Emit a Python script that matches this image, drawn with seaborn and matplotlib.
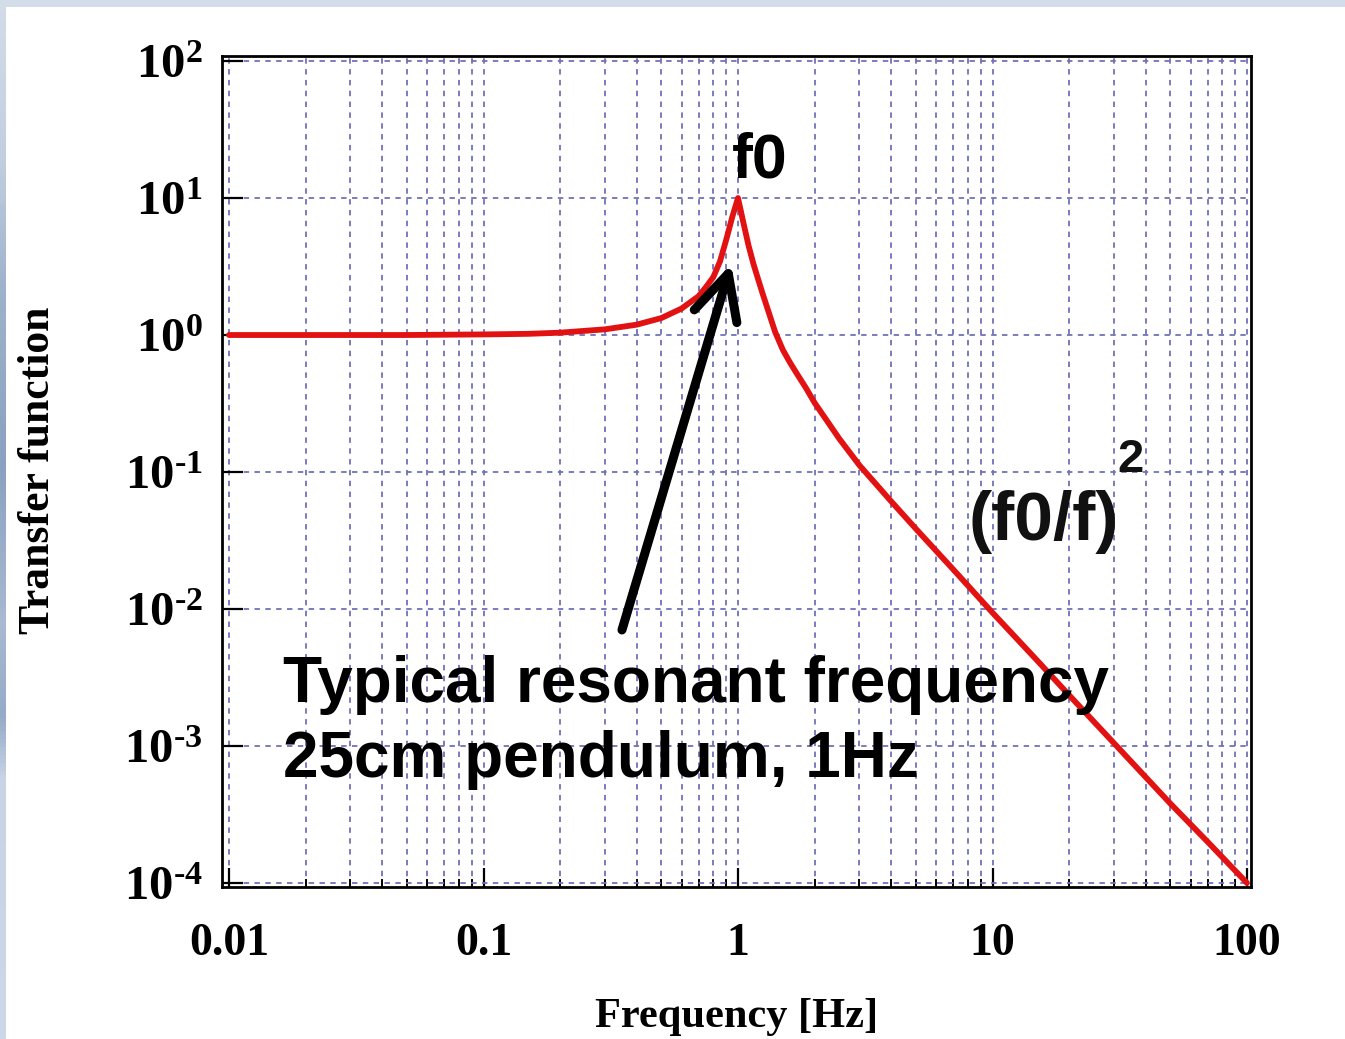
import numpy as np
import pandas as pd
import matplotlib
matplotlib.use("Agg")
import matplotlib.pyplot as plt
import seaborn as sns
from matplotlib.ticker import FixedLocator, FixedFormatter, NullLocator, NullFormatter, LogLocator
from matplotlib.colors import LinearSegmentedColormap

# ---------------- data ----------------
freq = [0.01, 0.02, 0.05, 0.1, 0.15, 0.2, 0.3, 0.4, 0.5, 0.6, 0.7, 0.75, 0.8, 0.85,
        0.9, 0.95, 1.0, 1.05, 1.1, 1.15, 1.2, 1.25, 1.3, 1.4, 1.5, 1.6, 1.7, 1.85,
        2.0, 2.5, 3.0, 4.0, 5.0, 7.0, 10.0, 15.0, 20.0, 30.0, 50.0, 70.0, 100.0]
transfer = [1.0, 1.0, 1.0, 1.01, 1.02, 1.04, 1.10, 1.19, 1.33, 1.56, 1.92, 2.25, 2.65, 3.45,
            5.0, 7.3, 10.0, 6.6, 4.5, 3.3, 2.55, 2.0, 1.6, 1.05, 0.78, 0.63, 0.525, 0.41,
            0.32, 0.175, 0.112, 0.061, 0.0385, 0.0195, 0.0094, 0.0042, 0.00235, 0.00105,
            3.8e-4, 2.0e-4, 1.0e-4]

xticks = [0.01, 0.1, 1, 10, 100]
xtick_labels = ["0.01", "0.1", "1", "10", "100"]
yticks = [1e-4, 1e-3, 1e-2, 1e-1, 1e0, 1e1, 1e2]
ytick_labels = [r"$10^{\text{-}4}$", r"$10^{\text{-}3}$", r"$10^{\text{-}2}$", r"$10^{\text{-}1}$",
                r"$10^{0}$", r"$10^{1}$", r"$10^{2}$"]

x_label = "Frequency [Hz]"
y_label = "Transfer function"
peak_label = "f0"
note_line1 = "Typical resonant frequency"
note_line2 = "25cm pendulum, 1Hz"
slope_label = "(f0/f)"
slope_exp = "2"

# ---------------- style ----------------
RED = "#e31212"
GRID = "#7272b8"
W, H = 1345, 1039

sns.set_theme(style="white")
plt.rcParams["font.family"] = ["Liberation Serif", "DejaVu Serif"]
plt.rcParams["text.color"] = "black"
plt.rcParams["mathtext.fontset"] = "custom"
plt.rcParams["mathtext.rm"] = "Liberation Serif:bold"
plt.rcParams["mathtext.bf"] = "Liberation Serif:bold"
plt.rcParams["mathtext.it"] = "Liberation Serif:bold"

fig = plt.figure(figsize=(W / 100, H / 100), dpi=100, facecolor="white")

# background strips (slide frame)
bg = fig.add_axes([0, 0, 1, 1], zorder=-10)
bg.set_xlim(0, W)
bg.set_ylim(H, 0)
bg.axis("off")
bg.add_patch(plt.Rectangle((0, 0), W, 7, color="#d3dce9", lw=0))
cmap = LinearSegmentedColormap.from_list(
    "strip",
    [(0.0, "#d3dce9"), (0.15, "#c2cfe0"), (0.28, "#9db2cb"), (0.45, "#8aa2c0"),
     (0.6, "#a9bad2"), (0.69, "#94abc8"), (0.75, "#c8d3e6"), (1.0, "#cdd7ea")])
bg.imshow(np.linspace(0, 1, 256).reshape(-1, 1), cmap=cmap, aspect="auto",
          extent=(0, 6, H, 0))

ax = fig.add_axes([222 / W, 1 - 887 / H, (1251 - 222) / W, (887 - 56) / H])
ax.set_facecolor("white")

df = pd.DataFrame({"freq": freq, "transfer": transfer})
sns.lineplot(data=df, x="freq", y="transfer", ax=ax, color=RED, linewidth=4.2,
             estimator=None, sort=False, zorder=3)

ax.set_xscale("log")
ax.set_yscale("log")
ax.set_xlim(10 ** -2.0275, 10 ** 2.0157)
ax.set_ylim(10 ** -4.029, 10 ** 2.0365)

ax.xaxis.set_major_locator(FixedLocator(xticks))
ax.xaxis.set_major_formatter(FixedFormatter(xtick_labels))
ax.xaxis.set_minor_locator(LogLocator(base=10, subs=np.arange(2, 10), numticks=50))
ax.xaxis.set_minor_formatter(NullFormatter())
ax.yaxis.set_major_locator(FixedLocator(yticks))
ax.yaxis.set_major_formatter(FixedFormatter(ytick_labels))
ax.yaxis.set_minor_locator(NullLocator())

ax.tick_params(axis="x", which="major", direction="in", length=14, width=1.6,
               pad=26, labelsize=33, bottom=True, top=False, color="black",
               labelcolor="black")
ax.tick_params(axis="x", which="minor", direction="in", length=6, width=1.4,
               bottom=True, top=False, color="black")
ax.tick_params(axis="y", which="major", direction="in", length=15, width=1.6,
               pad=14, labelsize=35, left=True, right=False, color="black",
               labelcolor="black")
for lab in ax.get_xticklabels():
    lab.set_fontweight("bold")

ax.set_axisbelow(True)
ax.grid(True, axis="x", which="both", color=GRID, linestyle=(0, (3, 3)), linewidth=1.3)
ax.grid(True, axis="y", which="major", color=GRID, linestyle=(0, (3, 3)), linewidth=1.3)

for s in ax.spines.values():
    s.set_color("black")
    s.set_linewidth(2)

ax.set_xlabel(x_label, fontsize=30.5, fontweight="bold", color="black")
ax.xaxis.set_label_coords(0.5005, -0.134)
ax.set_ylabel(y_label, fontsize=31.5, fontweight="bold", color="black")
ax.yaxis.set_label_coords(-0.159, 0.502)

# annotations
sans = ["Liberation Sans", "DejaVu Sans"]
fig.text(760 / W, 1 - 178 / H, peak_label, family=sans, weight="bold", fontsize=45,
         ha="center", va="baseline", color="black")
fig.text(283 / W, 1 - 702 / H, note_line1, family=sans, weight="bold", fontsize=46,
         ha="left", va="baseline", color="black")
fig.text(283 / W, 1 - 777 / H, note_line2, family=sans, weight="bold", fontsize=46,
         ha="left", va="baseline", color="black")
fig.text(968 / W, 1 - 540 / H, slope_label, family=sans, weight="bold", fontsize=50,
         ha="left", va="baseline", color="#111111")
fig.text(1117 / W, 1 - 472 / H, slope_exp, family=sans, weight="bold", fontsize=34,
         ha="left", va="baseline", color="#111111")

ax.annotate("", xy=(0.94, 3.3), xytext=(0.35, 0.00703),
            arrowprops=dict(arrowstyle="->,head_length=3.2,head_width=1.6",
                            lw=6.5, color="black", shrinkA=0, shrinkB=0,
                            mutation_scale=10), zorder=5)

fig.savefig("out.png", dpi=100, facecolor=fig.get_facecolor())
